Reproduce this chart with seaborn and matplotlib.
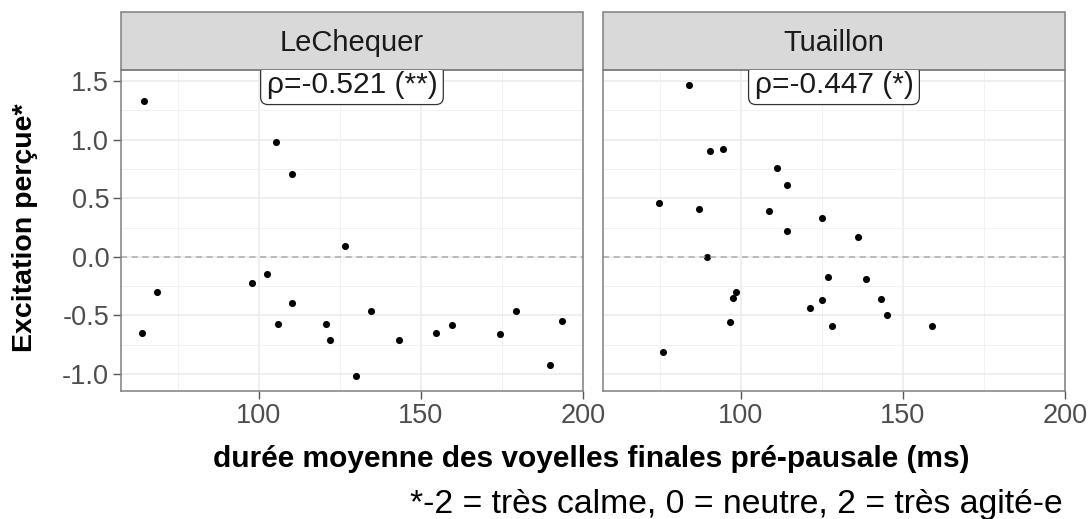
import numpy as np
import pandas as pd
import matplotlib
matplotlib.use("Agg")
import matplotlib.pyplot as plt
from matplotlib.patches import Rectangle
from matplotlib.ticker import MultipleLocator
import seaborn as sns

# ---- data ----
speakers = ["LeChequer", "Tuaillon"]
lechequer_duree = [64.5, 105.2, 110.2, 126.4, 102.4, 98.0, 68.5, 110.2, 134.6, 179.2, 105.8,
                   120.8, 159.5, 193.5, 63.9, 154.7, 174.4, 122.0, 143.3, 189.9, 129.9]
lechequer_excit = [1.33, 0.98, 0.71, 0.09, -0.15, -0.22, -0.30, -0.39, -0.46, -0.46, -0.57,
                   -0.57, -0.58, -0.55, -0.65, -0.65, -0.66, -0.71, -0.71, -0.92, -1.02]
tuaillon_duree = [84.1, 94.3, 90.5, 111.2, 114.1, 74.7, 87.0, 108.5, 124.9, 114.2, 136.2, 89.6,
                  126.8, 138.5, 98.4, 97.5, 143.1, 124.9, 121.2, 145.0, 96.6, 128.1, 158.8, 75.8]
tuaillon_excit = [1.47, 0.92, 0.90, 0.76, 0.61, 0.46, 0.41, 0.39, 0.33, 0.22, 0.17, 0.00,
                  -0.17, -0.19, -0.30, -0.35, -0.36, -0.37, -0.44, -0.50, -0.56, -0.59, -0.59, -0.81]
rho_labels = ["ρ=-0.521 (**)", "ρ=-0.447 (*)"]
x_ticks = [100, 150, 200]
y_ticks = [-1.0, -0.5, 0.0, 0.5, 1.0, 1.5]
y_ticklabels = ["-1.0", "-0.5", "0.0", "0.5", "1.0", "1.5"]

df = pd.DataFrame({
    "locuteur": [speakers[0]] * len(lechequer_duree) + [speakers[1]] * len(tuaillon_duree),
    "duree": lechequer_duree + tuaillon_duree,
    "excitation": lechequer_excit + tuaillon_excit,
})

sns.set_theme(style="white")
plt.rcParams["font.family"] = ["Liberation Sans", "DejaVu Sans"]

g = sns.relplot(data=df, x="duree", y="excitation", col="locuteur", col_order=speakers,
                kind="scatter", color="black", s=26, linewidth=0, height=4, aspect=1,
                facet_kws=dict(sharex=True, sharey=True))
fig = g.figure
fig.set_size_inches(10.92, 5.19)
W, H = 1092, 519
fig.subplots_adjust(left=121 / W, right=1065 / W, top=1 - 70 / H, bottom=1 - 391 / H,
                    wspace=20 / 462)
g.set_titles("")
g.set_axis_labels("", "")

xmin, xmax = df["duree"].min(), df["duree"].max()
ymin, ymax = df["excitation"].min(), df["excitation"].max()
xr, yr = xmax - xmin, ymax - ymin
xlim = (xmin - 0.05 * xr, xmax + 0.05 * xr)
ylim = (ymin - 0.05 * yr, ymax + 0.05 * yr)
xmid = (xmin + xmax) / 2

grid_col = "#EBEBEB"
ax_h = 321.0
for i, ax in enumerate(g.axes.flat):
    ax.set_xlim(*xlim)
    ax.set_ylim(*ylim)
    ax.set_xticks(x_ticks)
    ax.set_yticks(y_ticks)
    ax.set_yticklabels(y_ticklabels)
    ax.xaxis.set_minor_locator(MultipleLocator(25))
    ax.yaxis.set_minor_locator(MultipleLocator(0.25))
    ax.grid(True, which="major", color=grid_col, linewidth=1.1)
    ax.grid(True, which="minor", color="#F2F2F2", linewidth=0.7)
    ax.set_axisbelow(True)
    ax.axhline(0, color="#AAAAAA", linestyle=(0, (4, 3)), linewidth=1.1, zorder=1)
    for sp in ax.spines.values():
        sp.set_visible(True)
        sp.set_color("#808080")
        sp.set_linewidth(1.1)
    ax.tick_params(axis="both", which="major", length=5.5, width=1.0, color="#555555",
                   labelsize=19.5, labelcolor="#4D4D4D", left=True, bottom=True, pad=3)
    ax.tick_params(axis="both", which="minor", length=0)
    if i > 0:
        ax.tick_params(axis="y", left=False, labelleft=False)
    # strip
    rect = Rectangle((0, 1), 1, 58 / ax_h, transform=ax.transAxes, clip_on=False,
                     facecolor="#D9D9D9", edgecolor="#808080", linewidth=1.1)
    ax.add_patch(rect)
    ax.text(0.5, 1 + 19 / ax_h, speakers[i], transform=ax.transAxes, ha="center",
            va="baseline", fontsize=21, color="#1A1A1A")
    # correlation label
    t = ax.text(xmid, ymax, rho_labels[i], ha="center", va="center", fontsize=21.5,
                color="#1A1A1A", zorder=5,
                bbox=dict(boxstyle="round,pad=0.2,rounding_size=0.25", facecolor="white",
                          edgecolor="#333333", linewidth=0.9))
    t.set_clip_on(True)

fig.text(591.5 / W, 1 - 467 / H, "durée moyenne des voyelles finales pré-pausale (ms)",
         ha="center", va="baseline", fontsize=21.5, fontweight="bold", color="black")
fig.text(25 / W, 1 - 227.5 / H, "Excitation perçue*", ha="center", va="center",
         rotation=90, fontsize=20.5, fontweight="bold", color="black")
fig.text(1063 / W, 1 - 513.5 / H, "*-2 = très calme, 0 = neutre, 2 = très agité-e",
         ha="right", va="baseline", fontsize=24.3, color="black")

fig.savefig("out.png", dpi=100)
